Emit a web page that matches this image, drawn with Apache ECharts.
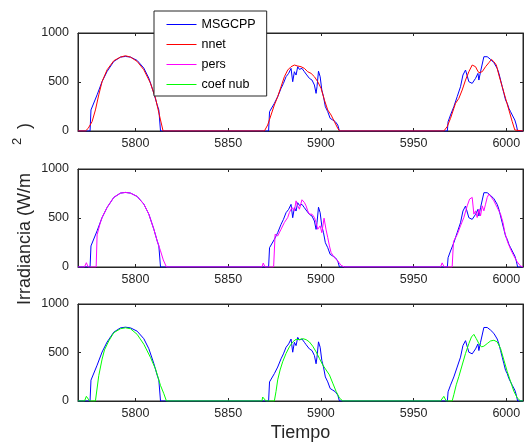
<!DOCTYPE html>
<html>
<head>
<meta charset="utf-8">
<script src="https://cdn.jsdelivr.net/npm/echarts@6/dist/echarts.min.js"></script>
<style>
html,body{margin:0;padding:0;background:#fff;}
#c{width:525px;height:443px;}
</style>
</head>
<body>
<div id="c"></div>
<script>
// ---- data (time index, irradiance W/m2) ----
var xTicks = [5800, 5850, 5900, 5950, 6000];
var yTicks = [0, 500, 1000];
var seriesNames = ['MSGCPP', 'nnet', 'pers', 'coef nub'];

var msgcpp = [
  [5769,0],[5775.5,0],[5776,215],[5779.3,369],[5782,505],[5784.7,608],[5788.3,710],[5791.9,754],[5794.6,761],[5797.3,754],[5800.9,720],[5804.5,642],[5807.2,539],[5809.9,386],[5811.7,266],[5812.6,215],[5813.5,0],
  [5871.8,0],[5872.3,197],[5873.1,214],[5874.9,282],[5876.7,350],[5878.5,435],[5879.8,486],[5881.2,554],[5882.6,588],[5883.9,639],[5884.8,503],[5885.7,605],[5886.6,571],[5887.5,656],[5888.4,629],[5889.8,639],[5891.1,605],[5892,581],[5892.9,588],[5893.8,537],[5895.2,520],[5896.5,469],[5897.4,384],[5897.9,452],[5898.7,610],[5899.6,554],[5900.5,418],[5901.4,350],[5902.4,248],[5903.7,197],[5905,129],[5906.4,112],[5907.8,95],[5909.1,61],[5910,0],
  [5968.2,0],[5968.6,95],[5969.9,163],[5971.7,248],[5973.5,350],[5975.3,452],[5976.6,571],[5978,622],[5978.9,639],[5979.8,503],[5980.7,486],[5981.6,486],[5982.5,469],[5983.4,537],[5983.9,537],[5984.7,588],[5985.2,520],[5986.1,605],[5987,622],[5987.9,758],[5989.7,758],[5991.5,731],[5993.3,697],[5995.1,639],[5996,588],[5996.9,520],[5997.8,452],[5998.7,384],[5999.6,316],[6000.5,282],[6001.4,231],[6002.3,197],[6003.2,163],[6004.6,112],[6005.4,61],[6006.1,0],[6009,0]
];

var nnet = [
  [5769,0],[5773,0],[5774.5,27],[5776.6,96],[5778.4,215],[5780.2,369],[5782,505],[5784.7,625],[5788.3,717],[5791.9,754],[5794.6,768],[5797.3,754],[5800.9,710],[5804.5,625],[5808.1,488],[5810.8,334],[5813.5,113],[5814.9,0],
  [5869.5,0],[5871.3,61],[5873.1,163],[5874.9,265],[5876.7,350],[5878.5,452],[5880.3,554],[5882.1,622],[5883.9,656],[5885.7,673],[5887.5,663],[5889.3,656],[5891.1,639],[5892.9,605],[5894.7,588],[5896.5,554],[5898.3,503],[5900.1,435],[5901.9,316],[5903.7,214],[5905.5,163],[5907.3,95],[5909.1,27],[5910,0],
  [5966.3,0],[5968.1,44],[5969.9,129],[5971.7,231],[5972.6,282],[5973.5,265],[5974.4,333],[5976.2,418],[5978,520],[5979.8,605],[5981.6,673],[5982.5,683],[5983.4,656],[5984.3,622],[5985.2,595],[5986.1,581],[5987,605],[5988.8,656],[5990.6,697],[5992,731],[5993.3,707],[5994.6,673],[5996,571],[5997.8,452],[5999.6,333],[6001.4,214],[6003.2,95],[6004.6,10],[6005.4,0],[6009,0]
];

var pers = [
  [5769,0],[5772.5,0],[5773.5,44],[5774.5,0],[5778.8,0],[5779.3,328],[5781,450],[5782,505],[5784.7,608],[5788.3,710],[5791.9,754],[5794.6,761],[5797.3,754],[5800.9,720],[5804.5,642],[5807.2,539],[5809.9,386],[5811.7,266],[5812.6,215],[5813.5,165],[5815,72],[5816.7,0],
  [5868.2,0],[5868.9,40],[5869.9,0],[5874.5,0],[5875.3,334],[5876.7,317],[5878.5,385],[5880.3,454],[5882.1,505],[5883,556],[5884.4,607],[5885.7,573],[5886.6,675],[5887.5,624],[5888.4,590],[5889.8,686],[5891.1,658],[5892,624],[5892.9,573],[5893.8,539],[5895.2,539],[5896.5,505],[5897.4,454],[5898.3,385],[5899.6,420],[5900.5,350],[5901.7,498],[5902.8,379],[5903.7,300],[5904.6,215],[5905.5,147],[5907.3,96],[5909.1,61],[5910.9,17],[5912.7,0],
  [5964.5,0],[5965.4,42],[5966.5,0],[5970.8,0],[5971.5,260],[5973.5,330],[5975.3,420],[5977.1,505],[5978.9,624],[5980.2,693],[5981.6,710],[5982.5,539],[5983.4,573],[5984.3,505],[5985.2,590],[5986.1,522],[5987,624],[5987.9,573],[5988.8,641],[5989.7,710],[5990.6,744],[5992,710],[5993.3,675],[5995.1,607],[5996.9,539],[5998.2,454],[5999.2,352],[6000.5,266],[6002.3,181],[6004.1,113],[6005.9,51],[6007.7,10],[6009,0]
];

var coefNub = [
  [5769,0],[5772.5,0],[5773.5,48],[5775.3,0],[5778.4,0],[5780.2,262],[5782,432],[5783.3,527],[5785.6,619],[5788.3,704],[5791.9,745],[5794.6,755],[5797.3,745],[5800.9,687],[5804.5,585],[5808.1,449],[5810.8,330],[5813.5,160],[5815.3,75],[5816.7,0],
  [5868.2,0],[5868.6,41],[5870.4,0],[5874.9,0],[5875.8,99],[5876.7,218],[5878,320],[5879.4,405],[5881.2,490],[5883,558],[5884.8,609],[5886.6,636],[5888.4,633],[5890.2,643],[5892,633],[5893.8,609],[5895.6,565],[5897.4,507],[5899.2,439],[5901,371],[5902.8,320],[5904.6,269],[5906.4,184],[5908.2,99],[5910,31],[5911.8,0],
  [5964.5,0],[5966.3,48],[5967.6,0],[5970.8,0],[5971.7,65],[5973,167],[5974.4,252],[5976.2,371],[5978,490],[5979.8,592],[5981.2,660],[5982.5,687],[5983.8,643],[5985.2,592],[5986.6,558],[5987.9,565],[5989.7,592],[5991.5,619],[5993.3,626],[5995.1,609],[5996.9,541],[5998.7,422],[6000.5,303],[6002.3,201],[6004.1,99],[6005.9,31],[6007.7,0],[6009,0]
];

// ---- chart ----
var FONT = "'Liberation Sans', Arial, Helvetica, sans-serif";
var AX = '#262626';
var X_MIN = 5769, X_MAX = 6009;
var gridTops = [33, 169, 304];
var colors = {MSGCPP:'#0000ff', nnet:'#ff0000', pers:'#ff00ff', 'coef nub':'#00ff00'};
function plain(v) { return String(v); }

var grids = [], xAxes = [], yAxes = [];
gridTops.forEach(function (t, i) {
  grids.push({left: 78, top: t, width: 445, height: 98, show: true, borderColor: AX, borderWidth: 1, backgroundColor: '#fff', containLabel: false});
});
// bottom x axes
gridTops.forEach(function (t, i) {
  var ax = {
    gridIndex: i, type: 'value', min: X_MIN, max: X_MAX, position: 'bottom',
    axisLine: {show: true, onZero: false, lineStyle: {color: AX, width: 1}},
    axisTick: {show: true, inside: true, length: 3, customValues: xTicks, lineStyle: {color: AX}},
    axisLabel: {show: true, customValues: xTicks, formatter: plain, color: AX, fontSize: 12.5, fontFamily: FONT, margin: 6},
    splitLine: {show: false}
  };
  if (i === 2) {
    ax.name = 'Tiempo';
    ax.nameLocation = 'middle';
    ax.nameGap = 23;
    ax.nameTextStyle = {fontSize: 18, color: AX, fontFamily: FONT};
  }
  xAxes.push(ax);
});
// top x axes (box ticks)
gridTops.forEach(function (t, i) {
  xAxes.push({
    gridIndex: i, type: 'value', min: X_MIN, max: X_MAX, position: 'top',
    axisLine: {show: true, onZero: false, lineStyle: {color: AX, width: 1}},
    axisTick: {show: true, inside: true, length: 3, customValues: xTicks, lineStyle: {color: AX}},
    axisLabel: {show: false},
    splitLine: {show: false}
  });
});
// left y axes
gridTops.forEach(function (t, i) {
  yAxes.push({
    gridIndex: i, type: 'value', min: 0, max: 1000, interval: 500, position: 'left',
    axisLine: {show: true, onZero: false, lineStyle: {color: AX, width: 1}},
    axisTick: {show: true, inside: true, length: 3, lineStyle: {color: AX}},
    axisLabel: {show: true, formatter: plain, color: AX, fontSize: 12.5, fontFamily: FONT, margin: 9},
    splitLine: {show: false}
  });
});
// right y axes
gridTops.forEach(function (t, i) {
  yAxes.push({
    gridIndex: i, type: 'value', min: 0, max: 1000, interval: 500, position: 'right',
    axisLine: {show: true, onZero: false, lineStyle: {color: AX, width: 1}},
    axisTick: {show: true, inside: true, length: 3, lineStyle: {color: AX}},
    axisLabel: {show: false},
    splitLine: {show: false}
  });
});

function mkSeries(name, data, gi) {
  return {
    name: name, type: 'line', data: data, xAxisIndex: gi, yAxisIndex: gi,
    symbol: 'none', showSymbol: false, animation: false, silent: true,
    lineStyle: {color: colors[name], width: 1}, itemStyle: {color: colors[name]}
  };
}

var series = [
  mkSeries('MSGCPP', msgcpp, 0), mkSeries('nnet', nnet, 0),
  mkSeries('MSGCPP', msgcpp, 1), mkSeries('pers', pers, 1),
  mkSeries('MSGCPP', msgcpp, 2), mkSeries('coef nub', coefNub, 2)
];

var chart = echarts.init(document.getElementById('c'), null, {renderer: 'canvas'});
chart.setOption({
  backgroundColor: '#fff',
  animation: false,
  grid: grids,
  xAxis: xAxes,
  yAxis: yAxes,
  legend: {
    orient: 'vertical', left: 154, top: 11,
    data: seriesNames,
    itemWidth: 30, itemHeight: 13, itemGap: 7,
    padding: [7, 11, 5, 12],
    itemStyle: {opacity: 0},
    lineStyle: {width: 1},
    borderColor: AX, borderWidth: 1, borderRadius: 0, backgroundColor: '#fff',
    textStyle: {fontSize: 12.5, color: '#000', fontFamily: FONT, lineHeight: 13},
    selectedMode: false, z: 10
  },
  graphic: [
    {type: 'text', x: 25, y: 305, rotation: Math.PI / 2, z: 10,
      style: {text: 'Irradiancia (W/m', fontSize: 18, fontFamily: FONT, fill: AX, align: 'left', verticalAlign: 'middle'}},
    {type: 'text', x: 17, y: 145, rotation: Math.PI / 2, z: 10,
      style: {text: '2', fontSize: 13, fontFamily: FONT, fill: AX, align: 'left', verticalAlign: 'middle'}},
    {type: 'text', x: 25, y: 129, rotation: Math.PI / 2, z: 10,
      style: {text: ')', fontSize: 18, fontFamily: FONT, fill: AX, align: 'left', verticalAlign: 'middle'}}
  ],
  series: series
});
</script>
</body>
</html>
